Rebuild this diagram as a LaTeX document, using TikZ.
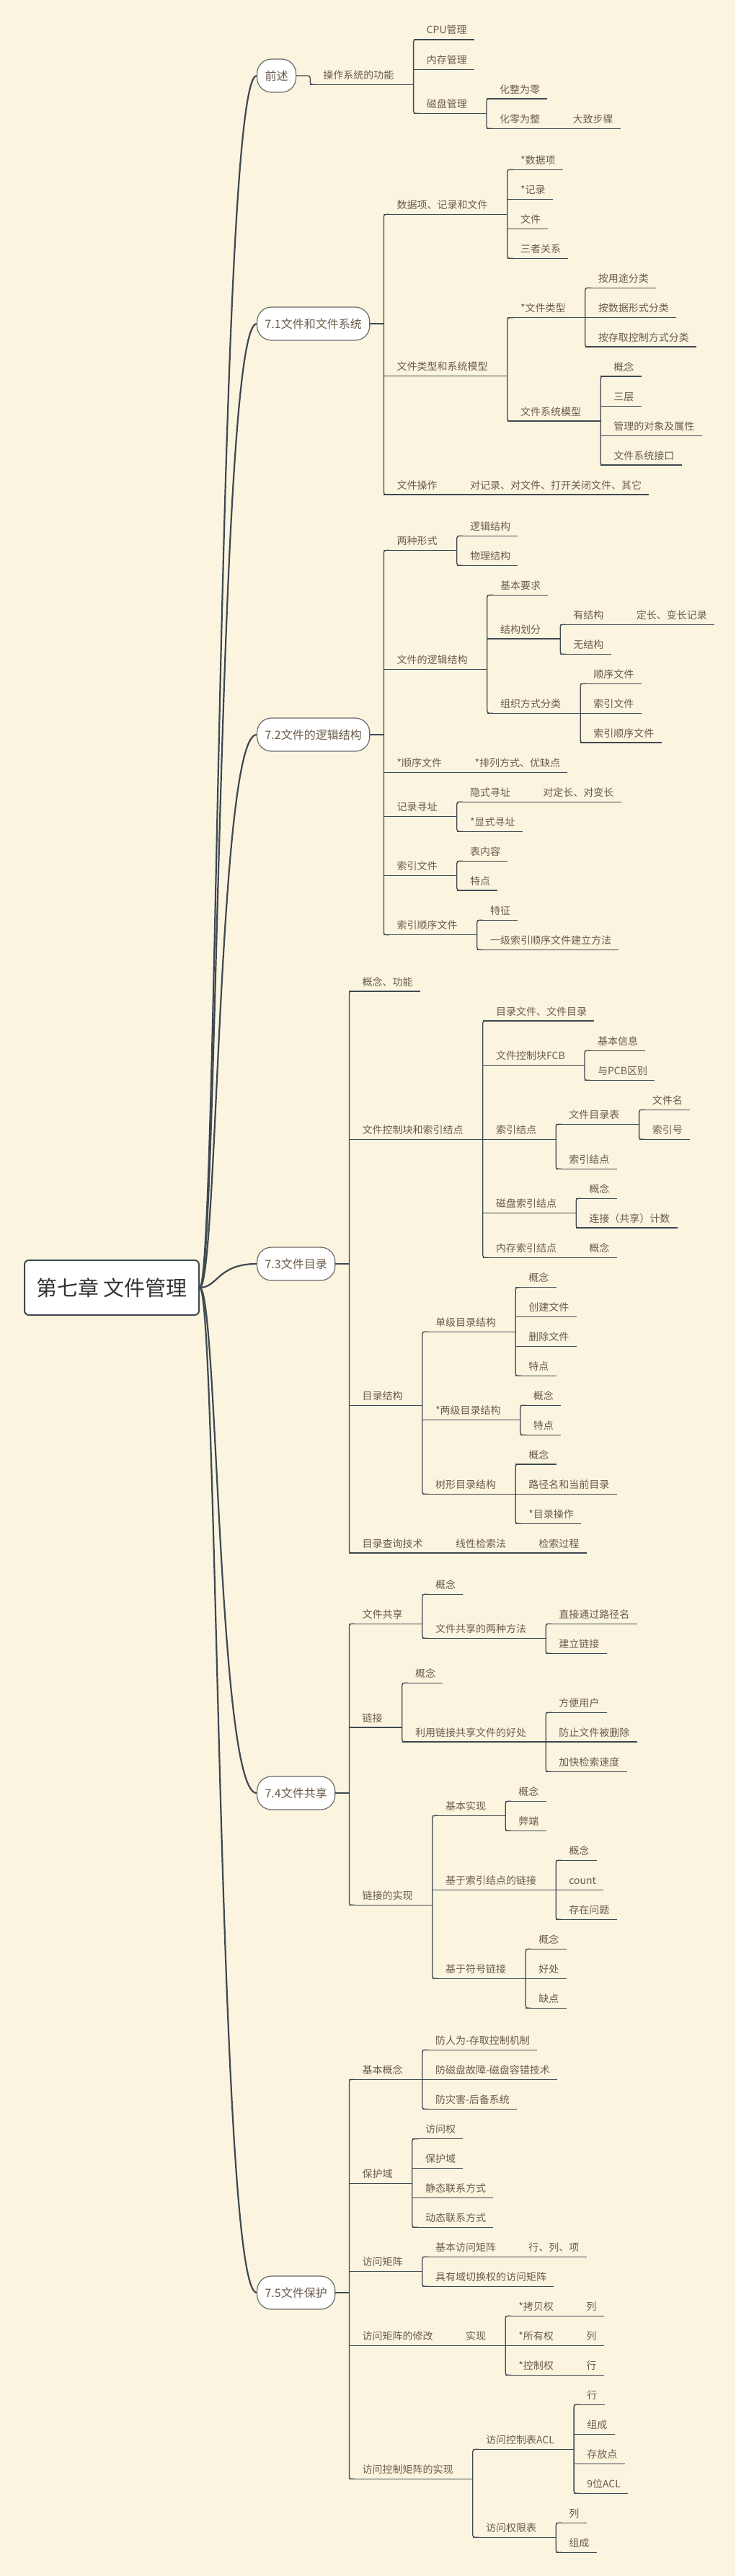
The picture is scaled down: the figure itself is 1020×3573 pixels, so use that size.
\documentclass[tikz,border=0pt]{standalone}
\usepackage{fontspec}
\newfontfamily\cjk{Noto Sans CJK SC}
\usetikzlibrary{calc}
\definecolor{bg}{HTML}{FBF5DF}
\definecolor{txtc}{HTML}{6B5B4B}
\definecolor{lnc}{HTML}{3E4852}
\definecolor{pillc}{HTML}{6A6A6A}
\tikzset{
  txt/.style={anchor=base west, inner sep=0pt, font=\cjk\fontsize{14pt}{17pt}\selectfont, text=txtc},
  ln/.style={draw=lnc, line width=1.3pt},
  curve/.style={draw=lnc, line width=2.2pt},
  pillst/.style={anchor=west, draw=pillc, line width=1.2pt, fill=white, rounded corners=20pt,
    minimum height=46pt, inner xsep=11pt, inner ysep=0pt, font=\cjk\fontsize{16pt}{19pt}\selectfont, text=txtc},
  rootst/.style={draw=lnc, line width=2pt, fill=white, rounded corners=6pt, minimum width=242pt,
    minimum height=76pt, inner sep=0pt, font=\cjk\fontsize{29pt}{34pt}\selectfont, text=black!80}
}
% #1 parent out-coordinate, #2 name, #3 underline y, #4 text
\newcommand\mn[4]{%
  \path let \p1=(#1) in (\x1,#3) coordinate (#2-s);
  \node[txt] (#2) at ([shift={(18pt,8pt)}]#2-s) {#4};
  \coordinate (#2-e) at ([xshift=10pt]#2.east |- #2-s);
  \coordinate (#2-o) at ([xshift=27pt]#2.east |- #2-s);
  \draw[ln] (#2-s) -- (#2-e);
}
\newcommand\tr[3]{%
  \draw[ln] (#1-e) -- (#1-o);
  \draw[ln,rounded corners=3pt] ([xshift=8pt]#2-s) -- (#2-s) -- (#3-s) -- ([xshift=8pt]#3-s);
}
\newcommand\ch[1]{\draw[ln] (#1-e) -- (#1-o);}
\newcommand\pill[3]{%
  \node[pillst] (#1) at (356,#2) {#3};
  \coordinate (#1-o) at ([xshift=19pt]#1.east);
  \draw[curve] (root.east) .. controls +(25pt,0pt) and ([xshift=25pt]root.east |- #1.west) .. (#1.west);
}
\newcommand\pt[3]{%
  \draw[ln] (#1.east) -- (#1.east -| #2-s);
  \draw[ln,rounded corners=3pt] ([xshift=8pt]#2-s) -- (#2-s) -- (#3-s) -- ([xshift=8pt]#3-s);
}
\begin{document}
\begin{tikzpicture}[x=1pt,y=-1pt]
\fill[bg] (0,0) rectangle (1020,3573);
\useasboundingbox (0,0) rectangle (1020,3573);
\node[rootst] (root) at (155,1786) {第七章 文件管理};

% ---------- 前述
\pill{p0}{105}{前述}
\mn{p0-o}{a}{117.3}{操作系统的功能}
\draw[ln,rounded corners=3pt] (p0.east) -- (p0-o) -- (a-s) -- ([xshift=8pt]a-s);
\mn{a-o}{a1}{55}{CPU管理}
\mn{a-o}{a2}{96.7}{内存管理}
\mn{a-o}{a3}{157.3}{磁盘管理}
\tr{a}{a1}{a3}
\mn{a3-o}{a31}{137}{化整为零}
\mn{a3-o}{a32}{178.3}{化零为整}
\tr{a3}{a31}{a32}
\mn{a32-o}{a321}{178.3}{大致步骤}
\ch{a32}

% ---------- 7.1
\pill{p1}{449}{7.1文件和文件系统}
\mn{p1-o}{b1}{297.3}{数据项、记录和文件}
\mn{p1-o}{b2}{521.7}{文件类型和系统模型}
\mn{p1-o}{b3}{686}{文件操作}
\pt{p1}{b1}{b3}
\mn{b1-o}{b11}{235.3}{*数据项}
\mn{b1-o}{b12}{276.3}{*记录}
\mn{b1-o}{b13}{317.3}{文件}
\mn{b1-o}{b14}{358.3}{三者关系}
\tr{b1}{b11}{b14}
\mn{b2-o}{b21}{440.7}{*文件类型}
\mn{b2-o}{b22}{584}{文件系统模型}
\tr{b2}{b21}{b22}
\mn{b21-o}{b211}{399.3}{按用途分类}
\mn{b21-o}{b212}{440.7}{按数据形式分类}
\mn{b21-o}{b213}{481}{按存取控制方式分类}
\tr{b21}{b211}{b213}
\mn{b22-o}{b221}{522}{概念}
\mn{b22-o}{b222}{563.3}{三层}
\mn{b22-o}{b223}{604.3}{管理的对象及属性}
\mn{b22-o}{b224}{645}{文件系统接口}
\tr{b22}{b221}{b224}
\mn{b3-o}{b31}{686}{对记录、对文件、打开关闭文件、其它}
\ch{b3}

% ---------- 7.2
\pill{p2}{1019}{7.2文件的逻辑结构}
\mn{p2-o}{c1}{763.3}{两种形式}
\mn{p2-o}{c2}{928.3}{文件的逻辑结构}
\mn{p2-o}{c3}{1071.3}{*顺序文件}
\mn{p2-o}{c4}{1132.3}{记录寻址}
\mn{p2-o}{c5}{1214.3}{索引文件}
\mn{p2-o}{c6}{1296.7}{索引顺序文件}
\pt{p2}{c1}{c6}
\mn{c1-o}{c11}{743.3}{逻辑结构}
\mn{c1-o}{c12}{784.3}{物理结构}
\tr{c1}{c11}{c12}
\mn{c2-o}{c21}{825.3}{基本要求}
\mn{c2-o}{c22}{886}{结构划分}
\mn{c2-o}{c23}{989.3}{组织方式分类}
\tr{c2}{c21}{c23}
\mn{c22-o}{c221}{866.3}{有结构}
\mn{c22-o}{c222}{907.3}{无结构}
\tr{c22}{c221}{c222}
\mn{c221-o}{c2211}{866.3}{定长、变长记录}
\ch{c221}
\mn{c23-o}{c231}{948.3}{顺序文件}
\mn{c23-o}{c232}{989.3}{索引文件}
\mn{c23-o}{c233}{1030}{索引顺序文件}
\tr{c23}{c231}{c233}
\mn{c3-o}{c31}{1071.3}{*排列方式、优缺点}
\ch{c3}
\mn{c4-o}{c41}{1112.3}{隐式寻址}
\mn{c4-o}{c42}{1153.3}{*显式寻址}
\tr{c4}{c41}{c42}
\mn{c41-o}{c411}{1112.3}{对定长、对变长}
\ch{c41}
\mn{c5-o}{c51}{1194.3}{表内容}
\mn{c5-o}{c52}{1235}{特点}
\tr{c5}{c51}{c52}
\mn{c6-o}{c61}{1276.3}{特征}
\mn{c6-o}{c62}{1317.3}{一级索引顺序文件建立方法}
\tr{c6}{c61}{c62}

% ---------- 7.3
\pill{p3}{1753}{7.3文件目录}
\mn{p3-o}{d1}{1375}{概念、功能}
\mn{p3-o}{d2}{1580.3}{文件控制块和索引结点}
\mn{p3-o}{d3}{1949.3}{目录结构}
\mn{p3-o}{d4}{2154}{目录查询技术}
\pt{p3}{d1}{d4}
\mn{d2-o}{d21}{1416}{目录文件、文件目录}
\mn{d2-o}{d22}{1477.3}{文件控制块FCB}
\mn{d2-o}{d23}{1580.3}{索引结点}
\mn{d2-o}{d24}{1682.3}{磁盘索引结点}
\mn{d2-o}{d25}{1744.3}{内存索引结点}
\tr{d2}{d21}{d25}
\mn{d22-o}{d221}{1457.3}{基本信息}
\mn{d22-o}{d222}{1498.3}{与PCB区别}
\tr{d22}{d221}{d222}
\mn{d23-o}{d231}{1559.3}{文件目录表}
\mn{d23-o}{d232}{1621.3}{索引结点}
\tr{d23}{d231}{d232}
\mn{d231-o}{d2311}{1539.3}{文件名}
\mn{d231-o}{d2312}{1580.3}{索引号}
\tr{d231}{d2311}{d2312}
\mn{d24-o}{d241}{1662.3}{概念}
\mn{d24-o}{d242}{1703}{连接（共享）计数}
\tr{d24}{d241}{d242}
\mn{d25-o}{d251}{1744.3}{概念}
\ch{d25}
\mn{d3-o}{d31}{1847.3}{单级目录结构}
\mn{d3-o}{d32}{1969.3}{*两级目录结构}
\mn{d3-o}{d33}{2072.3}{树形目录结构}
\tr{d3}{d31}{d33}
\mn{d31-o}{d311}{1785.7}{概念}
\mn{d31-o}{d312}{1826.3}{创建文件}
\mn{d31-o}{d313}{1867.3}{删除文件}
\mn{d31-o}{d314}{1908.3}{特点}
\tr{d31}{d311}{d314}
\mn{d32-o}{d321}{1949.3}{概念}
\mn{d32-o}{d322}{1990.3}{特点}
\tr{d32}{d321}{d322}
\mn{d33-o}{d331}{2031}{概念}
\mn{d33-o}{d332}{2072.3}{路径名和当前目录}
\mn{d33-o}{d333}{2113.3}{*目录操作}
\tr{d33}{d331}{d333}
\mn{d4-o}{d41}{2154}{线性检索法}
\ch{d4}
\mn{d41-o}{d411}{2154}{检索过程}
\ch{d41}

% ---------- 7.4
\pill{p4}{2487}{7.4文件共享}
\mn{p4-o}{e1}{2252.3}{文件共享}
\mn{p4-o}{e2}{2396}{链接}
\mn{p4-o}{e3}{2642.3}{链接的实现}
\pt{p4}{e1}{e3}
\mn{e1-o}{e11}{2211.3}{概念}
\mn{e1-o}{e12}{2272.3}{文件共享的两种方法}
\tr{e1}{e11}{e12}
\mn{e12-o}{e121}{2252.3}{直接通过路径名}
\mn{e12-o}{e122}{2293.3}{建立链接}
\tr{e12}{e121}{e122}
\mn{e2-o}{e21}{2334.3}{概念}
\mn{e2-o}{e22}{2416}{利用链接共享文件的好处}
\tr{e2}{e21}{e22}
\mn{e22-o}{e221}{2375.3}{方便用户}
\mn{e22-o}{e222}{2416}{防止文件被删除}
\mn{e22-o}{e223}{2457.3}{加快检索速度}
\tr{e22}{e221}{e223}
\mn{e3-o}{e31}{2518.3}{基本实现}
\mn{e3-o}{e32}{2621.3}{基于索引结点的链接}
\mn{e3-o}{e33}{2744.3}{基于符号链接}
\tr{e3}{e31}{e33}
\mn{e31-o}{e311}{2498.3}{概念}
\mn{e31-o}{e312}{2539.3}{弊端}
\tr{e31}{e311}{e312}
\mn{e32-o}{e321}{2580.3}{概念}
\mn{e32-o}{e322}{2621.3}{count}
\mn{e32-o}{e323}{2662.3}{存在问题}
\tr{e32}{e321}{e323}
\mn{e33-o}{e331}{2703.3}{概念}
\mn{e33-o}{e332}{2744.3}{好处}
\mn{e33-o}{e333}{2785.3}{缺点}
\tr{e33}{e331}{e333}

% ---------- 7.5
\pill{p5}{3180}{7.5文件保护}
\mn{p5-o}{f1}{2884.3}{基本概念}
\mn{p5-o}{f2}{3028.7}{保护域}
\mn{p5-o}{f3}{3150.7}{访问矩阵}
\mn{p5-o}{f4}{3253.3}{访问矩阵的修改}
\mn{p5-o}{f5}{3438.3}{访问控制矩阵的实现}
\pt{p5}{f1}{f5}
\mn{f1-o}{f11}{2843.3}{防人为-存取控制机制}
\mn{f1-o}{f12}{2884.3}{防磁盘故障-磁盘容错技术}
\mn{f1-o}{f13}{2925.3}{防灾害-后备系统}
\tr{f1}{f11}{f13}
\mn{f2-o}{f21}{2966.7}{访问权}
\mn{f2-o}{f22}{3007.3}{保护域}
\mn{f2-o}{f23}{3048.3}{静态联系方式}
\mn{f2-o}{f24}{3089.3}{动态联系方式}
\tr{f2}{f21}{f24}
\mn{f3-o}{f31}{3130.3}{基本访问矩阵}
\mn{f3-o}{f32}{3171.3}{具有域切换权的访问矩阵}
\tr{f3}{f31}{f32}
\mn{f31-o}{f311}{3130.3}{行、列、项}
\ch{f31}
\mn{f4-o}{f41}{3253.3}{实现}
\ch{f4}
\mn{f41-o}{f411}{3212.3}{*拷贝权}
\mn{f41-o}{f412}{3253.3}{*所有权}
\mn{f41-o}{f413}{3294.3}{*控制权}
\tr{f41}{f411}{f413}
\mn{f411-o}{f4111}{3212.3}{列}
\ch{f411}
\mn{f412-o}{f4121}{3253.3}{列}
\ch{f412}
\mn{f413-o}{f4131}{3294.3}{行}
\ch{f413}
\mn{f5-o}{f51}{3397.3}{访问控制表ACL}
\mn{f5-o}{f52}{3519.3}{访问权限表}
\tr{f5}{f51}{f52}
\mn{f51-o}{f511}{3335.3}{行}
\mn{f51-o}{f512}{3376.3}{组成}
\mn{f51-o}{f513}{3417.3}{存放点}
\mn{f51-o}{f514}{3458.3}{9位ACL}
\tr{f51}{f511}{f514}
\mn{f52-o}{f521}{3499.3}{列}
\mn{f52-o}{f522}{3540.3}{组成}
\tr{f52}{f521}{f522}
\end{tikzpicture}
\end{document}
